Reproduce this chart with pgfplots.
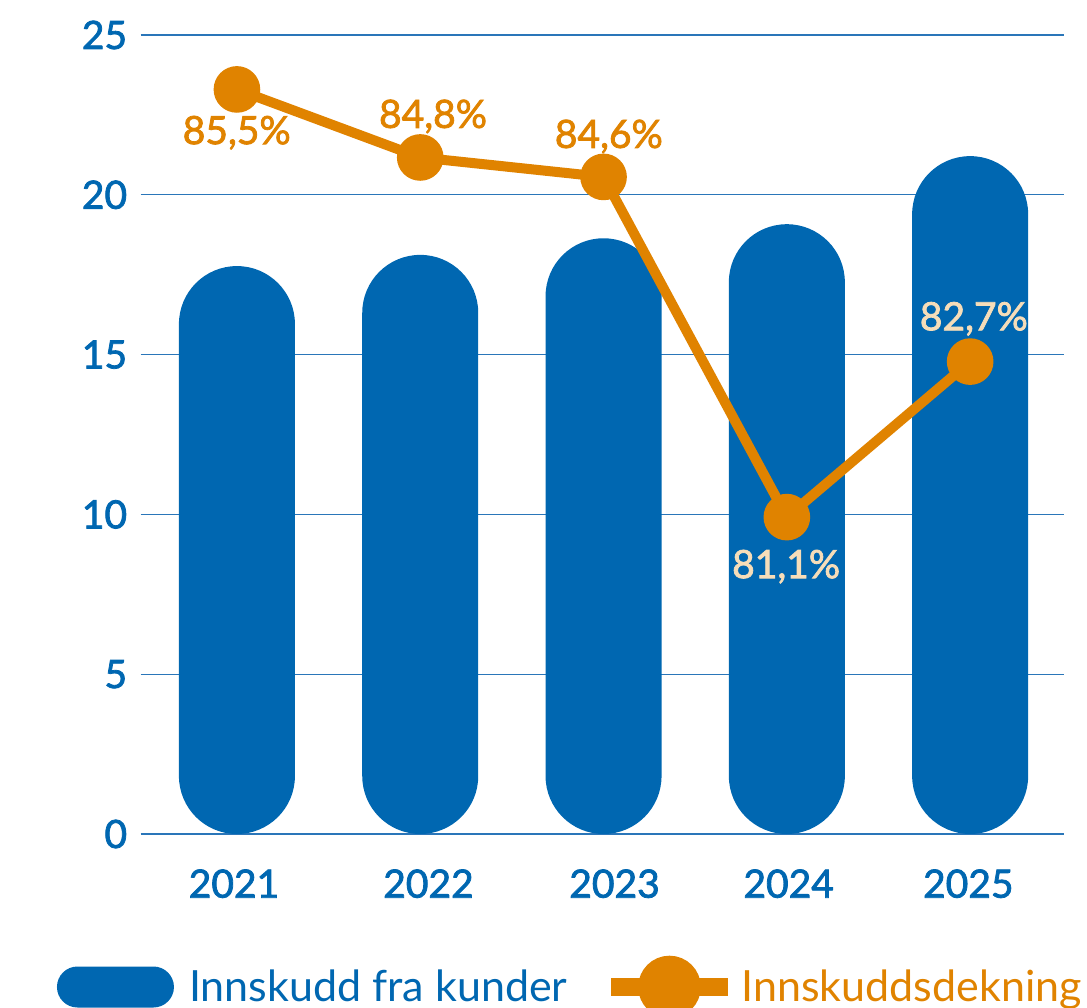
\documentclass[border=0pt]{standalone}
\usepackage{pgfplots}
\pgfplotsset{compat=1.18}
\usepackage{pgfplotstable}
\usepackage{fontspec}
\setmainfont{Lato}
\newfontfamily\semib{Lato}[FakeBold=2]
\definecolor{dnbblue}{HTML}{0067B1}
\definecolor{dnborange}{HTML}{E08300}
\definecolor{cream}{HTML}{F6DDB9}
\definecolor{gridblue}{HTML}{2A76B9}
\newcommand{\numfont}{\fontsize{19.5pt}{20pt}\semib}
\newcommand{\legfont}{\fontsize{21.5pt}{22pt}\selectfont}

\pgfplotstableread{
x val
0 17.77
1 18.12
2 18.64
3 19.08
4 21.21
}\deposits
\pgfplotstableread{
x pct
0 85.5
1 84.8
2 84.6
3 81.1
4 82.7
}\coverage

\pgfplotsset{
  common/.style={
    scale only axis, width=461.65pt, height=399.5pt,
    at={(70.35pt,86.5pt)}, anchor=south west,
    xmin=-0.525, xmax=4.512, clip=false,
    /pgf/number format/assume math mode=true,
  },
  pctlabel/.style n args={3}{draw=none, mark=none, point meta=y,
    nodes near coords={\pgfmathprintnumber[fixed,precision=1,fixed zerofill,use comma,assume math mode=true]{\pgfplotspointmeta}\%},
    every node near coord/.append style={anchor=base, inner sep=0pt, font=\numfont, text=#1, xshift=#2, yshift=#3}},
}

\begin{document}
\begin{tikzpicture}
\useasboundingbox (0,0) rectangle (543.5pt,503.5pt);
\clip (0,0) rectangle (543.5pt,503.5pt);
\begin{axis}[common,
  ymin=0, ymax=25,
  ytick={0,5,...,25}, xtick={-0.016,1.045,2.06,3.01,3.99}, xticklabels={2021,2022,2023,2024,2025},
  axis line style={draw=none}, tick style={draw=none}, major tick length=0pt,
  ymajorgrids, grid style={gridblue, line width=0.65pt},
  ticklabel style={font=\numfont, text=dnbblue, inner sep=0pt},
  yticklabel style={anchor=east, xshift=-6.6pt},
  xticklabel style={anchor=north, yshift=-17.5pt},
  legend style={at={(-0.0907,-0.1915)}, anchor=west, draw=none, fill=none,
    inner sep=0pt, outer sep=0pt, font=\legfont, text=dnbblue,
    nodes={inner sep=0pt}, /tikz/every odd column/.append style={column sep=7.6pt}},
]
\addplot[ybar, bar width=58pt, bar shift=0pt, fill=dnbblue, draw=none, rounded corners=29pt,
  legend image code/.code={\fill[dnbblue, rounded corners=10.25pt] (0pt,-10.25pt) rectangle (58.5pt,10.25pt);}]
  table[x=x,y=val]{\deposits};
\addlegendentry{Innskudd fra kunder}
\end{axis}
\begin{axis}[common, hide axis,
  ymin=77.84, ymax=86.06,
  legend style={at={(0.5000,-0.1915)}, anchor=west, draw=none, fill=none,
    inner sep=0pt, outer sep=0pt, font=\legfont, text=dnborange,
    nodes={inner sep=0pt}, /tikz/every odd column/.append style={column sep=2.4pt}},
]
\addplot[dnborange, line width=5pt, mark=*, mark size=9.15pt, mark options={fill=dnborange, draw=none},
  legend image code/.code={\draw[dnborange, line width=8.65pt] (0pt,0pt) -- (58.5pt,0pt); \fill[dnborange] (29.25pt,0pt) circle (13.15pt);}]
  table[x=x,y=pct]{\coverage};
\addlegendentry{Innskuddsdekning}
\addplot[pctlabel={dnborange}{-0.1pt}{-27.35pt}] coordinates {(0,85.5)};
\addplot[pctlabel={dnborange}{6.4pt}{14.8pt}] coordinates {(1,84.8)};
\addplot[pctlabel={dnborange}{2.65pt}{14.5pt}] coordinates {(2,84.6)};
\addplot[pctlabel={cream}{-0.35pt}{-30.5pt}] coordinates {(3,81.1)};
\addplot[pctlabel={cream}{1.85pt}{15.65pt}] coordinates {(4,82.7)};
\end{axis}
\end{tikzpicture}
\end{document}
